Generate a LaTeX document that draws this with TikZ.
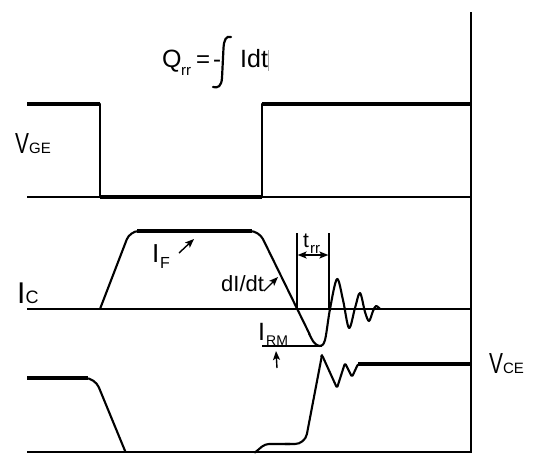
\documentclass[tikz,border=0pt]{standalone}
\usepackage{fontspec}
\usepackage{graphicx}
\setmainfont{Liberation Sans}
\usetikzlibrary{arrows.meta}
\newcommand\myfs[1]{\fontsize{#1}{#1}\selectfont}
\newcommand\narrowV{\scalebox{0.72}[1]{V}}
\begin{document}
\begin{tikzpicture}[x=1pt,y=-1pt,
  wave/.style={line width=2.1pt,line join=round,line cap=round},
  thickw/.style={line width=3.6pt},
  thinl/.style={line width=1.4pt},
  lbl/.style={inner sep=0pt,anchor=base west},
  arr/.style={-{Stealth[length=9pt,width=7pt,inset=2pt]},line width=1.4pt}]
\useasboundingbox (0,0) rectangle (536,453);
% frame lines
\draw[thinl] (471,12) -- (471,453);
\draw[thinl] (27,197) -- (471,197);
\draw[thinl] (27,309) -- (471,309);
\draw[thinl] (27,452) -- (471,452);
% V_GE waveform
\draw[thickw] (27,104) -- (100,104);
\draw[wave] (100,104) -- (100,197);
\draw[thickw] (100,197) -- (262,197);
\draw[wave] (262,197) -- (262,104);
\draw[thickw] (262,104) -- (471,104);
% I_C waveform
\draw[wave,rounded corners=9pt] (100,309) -- (130,231) -- (259,231) -- (309.5,334);
\draw[thickw] (137,231) -- (252,231);
\draw[wave] plot[smooth,tension=0.55] coordinates {(309,333.5) (314,342.5) (320,346) (325,340) (330,309) (337,279) (343,300) (349,328) (355,308) (360,293) (365,312) (369,321) (373,311) (376,306) (380,309)};
% I_RM line
\draw[thinl] (262,346) -- (322,346);
% t_rr markers
\draw[thinl] (297,233) -- (297,309);
\draw[thinl] (329,233) -- (329,309);
\coordinate (trrmid) at (313,255);
\coordinate (trrl) at (297.6,255);
\coordinate (trrr) at (328.4,255);
\draw[arr] (trrmid) -- (trrl);
\draw[arr] (trrmid) -- (trrr);
% V_CE waveform
\draw[thickw] (27,378) -- (88,378);
\draw[wave,rounded corners=10pt] (85,378) -- (95,378) -- (125.5,452);
\draw[wave,rounded corners=4pt] (255,452.5) -- (265,444) -- (290,444);
\draw[wave,rounded corners=10pt] (285,444) -- (305,444) -- (322,355);
\draw[wave,rounded corners=1.5pt] (321.5,356) -- (322,355) -- (337,388) -- (345,363) -- (352,377) -- (358,364) -- (362,364);
\draw[thickw] (358,364) -- (471,364);
% Q_rr formula
\node[lbl] (q) at (162,67) {\myfs{25}Q};
\node[lbl] (qrr) at (181,75) {\myfs{15}rr};
\node[lbl] (qeq) at (196,67) {\myfs{24}=};
\node[lbl] (qminus) at (213,67) {\myfs{24}-};
\draw[line width=2.2pt,line cap=round] (231,37) .. controls (226,35.5) and (224,40) .. (223.5,48) -- (222,78) .. controls (221.5,86) and (218,88.5) .. (213,87);
\node[lbl] (qidt) at (240,67) {\myfs{25}Idt};
\coordinate (bartop) at (268,50);
\coordinate (barbot) at (268,71);
\draw[gray!70,line width=0.8pt] (bartop) -- (barbot);
% labels
\node[lbl] (vge) at (15,153) {\myfs{29}\narrowV\myfs{15}GE};
\node[lbl] (ic) at (17,303) {\myfs{30}I\myfs{18}C};
\node[lbl] (vce) at (489,373) {\myfs{29}\narrowV\myfs{15}CE};
\node[lbl] (if) at (152,262) {\myfs{26}I};
\node[lbl] (ifs) at (160,268) {\myfs{16}F};
\coordinate (ift) at (179,253);
\coordinate (ifh) at (194,239);
\draw[arr] (ift) -- (ifh);
\node[lbl] (didt) at (221,291) {\myfs{22}dI/dt};
\coordinate (didtt) at (264,291);
\coordinate (didth) at (278,277);
\draw[arr] (didtt) -- (didth);
\node[lbl] (irm) at (258,340) {\myfs{25}I};
\node[lbl] (irms) at (266,345) {\myfs{14}RM};
\coordinate (irmt) at (277,368);
\coordinate (irmh) at (276,351);
\draw[arr] (irmt) -- (irmh);
\node[lbl] (trr) at (303,247) {\myfs{21}t};
\node[lbl] (trrs) at (310,253) {\myfs{15}rr};
\end{tikzpicture}
\end{document}
